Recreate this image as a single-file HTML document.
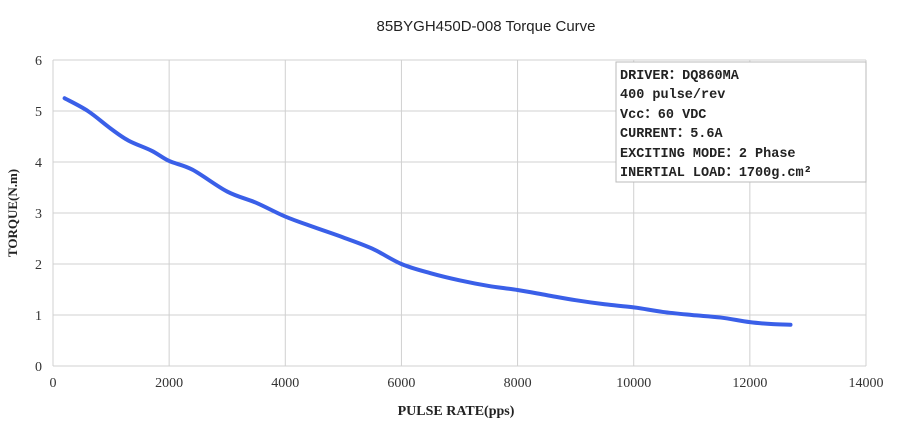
<!DOCTYPE html>
<html><head><meta charset="utf-8"><style>
body{margin:0;background:#fff;width:906px;height:435px;overflow:hidden}
svg{display:block}
</style></head><body>
<svg width="906" height="435" font-family="Liberation Serif, serif">
<text x="486" y="31" text-anchor="middle" font-family="Liberation Sans, sans-serif" font-size="15" fill="#222">85BYGH450D-008 Torque Curve</text>
<g id="grid"></g>
<g id="axes"></g>
<path id="curve" fill="none" stroke="#3a5fe8" stroke-width="4" stroke-linejoin="round" stroke-linecap="round"/>
<g>
<rect x="616" y="62" width="250" height="120" fill="#fff" stroke="#bbb"/>
<g font-family="Liberation Mono, 'Noto Sans CJK SC', monospace" font-size="13.5" font-weight="bold" fill="#222">
<text x="620" y="79">DRIVER：DQ860MA</text>
<text x="620" y="98">400  pulse/rev</text>
<text x="620" y="118">Vcc：60 VDC</text>
<text x="620" y="137">CURRENT：5.6A</text>
<text x="620" y="157">EXCITING MODE：2 Phase</text>
<text x="620" y="176">INERTIAL LOAD：1700g.cm²</text>
</g></g>
<text x="456" y="415" text-anchor="middle" font-size="14" font-weight="bold" fill="#222">PULSE  RATE(pps)</text>
<text transform="translate(17,213) rotate(-90)" text-anchor="middle" font-size="13" font-weight="bold" fill="#222">TORQUE(N.m)</text>
</svg>
<script>
const xTicks=[0,2000,4000,6000,8000,10000,12000,14000];
const yTicks=[0,1,2,3,4,5,6];
const pulseRate=[200,600,1000,1300,1700,2000,2400,3000,3500,4000,4500,5000,5500,6000,6500,7000,7500,8000,8500,9000,9500,10000,10500,11000,11500,12000,12400,12700];
const torque=[5.25,5.0,4.65,4.42,4.22,4.02,3.85,3.42,3.2,2.93,2.72,2.52,2.3,2.0,1.82,1.68,1.57,1.49,1.39,1.29,1.21,1.15,1.06,1.0,0.95,0.86,0.82,0.81];
const X=v=>53+v*(866-53)/14000, Y=v=>366-v*(366-60)/6;
const NS='http://www.w3.org/2000/svg';
const grid=document.getElementById('grid'), axes=document.getElementById('axes');
function mk(tag,attrs,parent){const e=document.createElementNS(NS,tag);for(const k in attrs)e.setAttribute(k,attrs[k]);parent.appendChild(e);return e;}
xTicks.forEach(t=>{
 const l=mk('line',{x1:X(t),x2:X(t),y1:60,y2:366,stroke:'#d0d0d0'},grid);
 
 
 const tx=mk('text',{x:X(t),y:387,'text-anchor':'middle','font-size':14,fill:'#333'},axes);
 tx.textContent=t;
 
 
});
yTicks.forEach(t=>{
 const l=mk('line',{x1:53,x2:866,y1:Y(t),y2:Y(t),stroke:'#d0d0d0'},grid);
 
 
 const tx=mk('text',{x:42,y:Y(t)+5,'text-anchor':'end','font-size':14,fill:'#333'},axes);
 tx.textContent=t;
 
 
});
const pts=pulseRate.map((p,i)=>[X(p),Y(torque[i])]);
let d='M'+pts[0].join(',');
for(let i=0;i<pts.length-1;i++){
 const p0=pts[Math.max(0,i-1)],p1=pts[i],p2=pts[i+1],p3=pts[Math.min(pts.length-1,i+2)];
 const c1=[p1[0]+(p2[0]-p0[0])/6,p1[1]+(p2[1]-p0[1])/6],c2=[p2[0]-(p3[0]-p1[0])/6,p2[1]-(p3[1]-p1[1])/6];
 d+=' C'+c1.join(',')+' '+c2.join(',')+' '+p2.join(',');
}
document.getElementById('curve').setAttribute('d',d);
</script>
</body></html>
